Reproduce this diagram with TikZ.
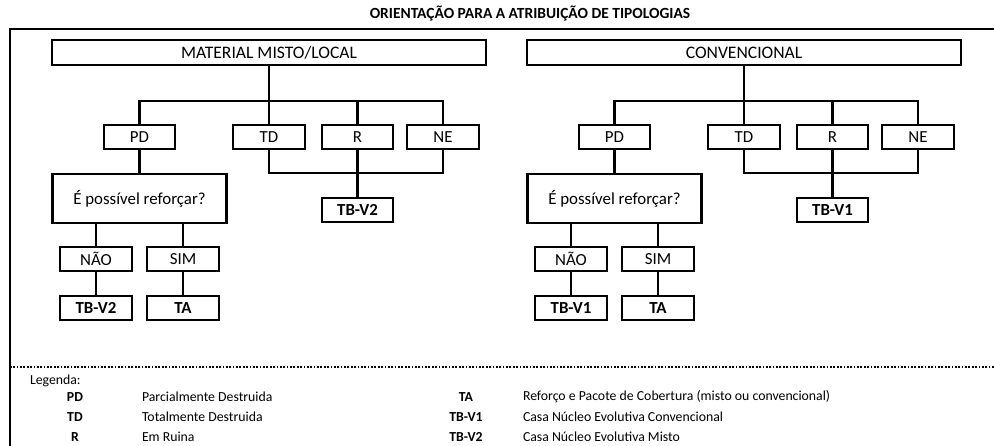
\documentclass[tikz,border=0pt]{standalone}
\usepackage{fontspec}
\setmainfont{Carlito}

\begin{document}
\begin{tikzpicture}[x=0.025cm, y=-0.025cm,
  every node/.style={outer sep=0pt, inner sep=0pt},
  catbox/.style={draw, line width=1.5pt, minimum width=10.85cm, minimum height=0.625cm, font=\fontsize{12.5}{14}\selectfont},
  optbox/.style={draw, line width=1.5pt, minimum width=1.78cm, minimum height=0.6cm, font=\fontsize{12}{14}\selectfont},
  resbox/.style={optbox, font=\fontsize{12}{14}\selectfont\bfseries},
  askbox/.style={draw, line width=1.5pt, minimum width=4.35cm, minimum height=1.225cm, font=\fontsize{12}{14}\selectfont},
  link/.style={line width=1.5pt},
  legcode/.style={font=\fontsize{9.8}{11}\selectfont\bfseries},
  legtext/.style={anchor=west, font=\fontsize{9.8}{11}\selectfont}]
\useasboundingbox (0,0) rectangle (994,446);

\node[font=\fontsize{11}{13}\selectfont\bfseries] (title) at (530,14) {ORIENTAÇÃO PARA A ATRIBUIÇÃO DE TIPOLOGIAS};
\draw[line width=1.5pt] (994,29) -- (10,29) -- (10,446);

\node[catbox] (lmat) at (269,52.5) {MATERIAL MISTO/LOCAL};
\node[optbox] (lpd) at (139.5,137) {PD};
\node[optbox] (ltd) at (269,137) {TD};
\node[optbox] (lr) at (357.5,137) {R};
\node[optbox] (lne) at (443,137) {NE};
\node[askbox] (lq) at (139.5,198.5) {É possível reforçar?};
\node[optbox] (lnao) at (96,259) {NÃO};
\node[optbox] (lsim) at (183,259) {SIM};
\node[resbox] (ltbn) at (96,308) {TB-V2};
\node[resbox] (lta) at (183,308) {TA};
\node[resbox] (ltbr) at (357.5,210) {TB-V2};
\coordinate (ltop) at (269,101);
\coordinate (lbot) at (357.5,173);

\draw[link] (lmat) -- (ltop);
\draw[link] (lpd) |- (ltop) -| (lne);
\draw[link] (ltop) -- (ltd);
\draw[link] (lr) -- (lr |- ltop);
\draw[link] (ltd) |- (lbot) -| (lne);
\draw[link] (lr) -- (ltbr);
\draw[link] (lpd) -- (lq);
\draw[link] (lq.south -| lnao) -- (lnao);
\draw[link] (lq.south -| lsim) -- (lsim);
\draw[link] (lnao) -- (ltbn);
\draw[link] (lsim) -- (lta);

\node[catbox] (rmat) at (744,52.5) {CONVENCIONAL};
\node[optbox] (rpd) at (614.5,137) {PD};
\node[optbox] (rtd) at (744,137) {TD};
\node[optbox] (rr) at (832.5,137) {R};
\node[optbox] (rne) at (918,137) {NE};
\node[askbox] (rq) at (614.5,198.5) {É possível reforçar?};
\node[optbox] (rnao) at (571,259) {NÃO};
\node[optbox] (rsim) at (658,259) {SIM};
\node[resbox] (rtbn) at (571,308) {TB-V1};
\node[resbox] (rta) at (658,308) {TA};
\node[resbox] (rtbr) at (832.5,210) {TB-V1};
\coordinate (rtop) at (744,101);
\coordinate (rbot) at (832.5,173);

\draw[link] (rmat) -- (rtop);
\draw[link] (rpd) |- (rtop) -| (rne);
\draw[link] (rtop) -- (rtd);
\draw[link] (rr) -- (rr |- rtop);
\draw[link] (rtd) |- (rbot) -| (rne);
\draw[link] (rr) -- (rtbr);
\draw[link] (rpd) -- (rq);
\draw[link] (rq.south -| rnao) -- (rnao);
\draw[link] (rq.south -| rsim) -- (rsim);
\draw[link] (rnao) -- (rtbn);
\draw[link] (rsim) -- (rta);

\draw[line width=1.2pt, dash pattern=on 1.2pt off 1.2pt] (10,367) -- (994,367);
\node[legtext] (leg) at (30,381) {Legenda:};
\node[legcode] (kpd) at (75,397) {PD};
\node[legtext] (tpd) at (142,397) {Parcialmente Destruida};
\node[legcode] (ktd) at (75,417) {TD};
\node[legtext] (ttd) at (142,417) {Totalmente Destruida};
\node[legcode] (kr) at (75,437) {R};
\node[legtext] (tr) at (142,437) {Em Ruina};
\node[legcode] (kta) at (466,397) {TA};
\node[legtext] (tta) at (523,397) {Reforço e Pacote de Cobertura (misto ou convencional)};
\node[legcode] (ktb1) at (466,417) {TB-V1};
\node[legtext] (ttb1) at (523,417) {Casa Núcleo Evolutiva Convencional};
\node[legcode] (ktb2) at (466,437) {TB-V2};
\node[legtext] (ttb2) at (523,437) {Casa Núcleo Evolutiva Misto};
\end{tikzpicture}
\end{document}
